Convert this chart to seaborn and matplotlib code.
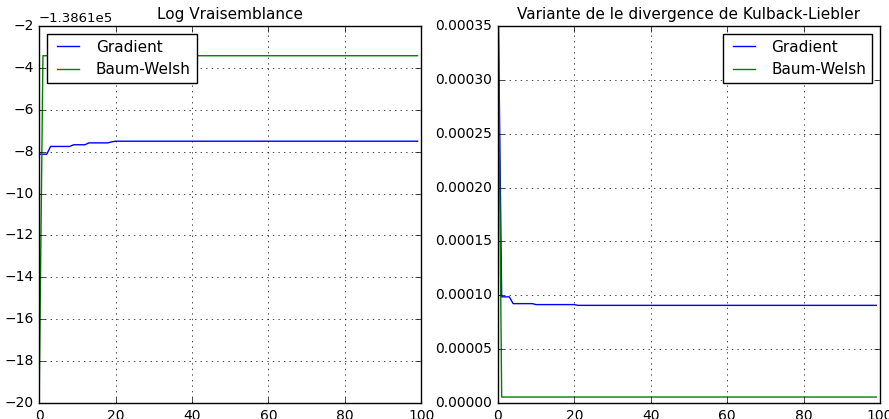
import matplotlib
matplotlib.use("Agg")
import matplotlib.pyplot as plt
import seaborn as sns
import numpy as np

# iterations 0..99
iterations = list(range(100))

# log-likelihood (absolute values, offset -1.3861e5)
base_ll = -138610.0
grad_ll_rel = [-8.12] * 3 + [-7.75] * 6 + [-7.67] * 4 + [-7.58] * 6 + [-7.53] * 1 + [-7.50] * 80
bw_ll_rel = [-20.0] + [-3.42] * 99

# KL divergence variant
grad_kl = [0.0004] + [0.0000986] * 3 + [0.0000923] * 6 + [0.0000914] * 11 + [0.0000907] * 79
bw_kl = [0.0004] + [0.0000056] * 99

grad_ll = [base_ll + v for v in grad_ll_rel]
bw_ll = [base_ll + v for v in bw_ll_rel]

plt.style.use("classic")
fig, (ax1, ax2) = plt.subplots(1, 2, figsize=(8.89, 4.19))

sns.lineplot(x=iterations, y=grad_ll, color="b", label="Gradient", ax=ax1)
sns.lineplot(x=iterations, y=bw_ll, color="g", label="Baum-Welsh", ax=ax1)
ax1.set_xlim(0, 100)
ax1.set_ylim(base_ll - 20, base_ll - 2)
ax1.yaxis.get_major_formatter().set_useOffset(base_ll)
ax1.yaxis.get_offset_text().set_fontsize(9.5)
ax1.set_title("Log Vraisemblance", fontsize=11)
ax1.grid(True)
ax1.legend(loc="upper left", fontsize=11)

sns.lineplot(x=iterations, y=grad_kl, color="b", label="Gradient", ax=ax2)
sns.lineplot(x=iterations, y=bw_kl, color="g", label="Baum-Welsh", ax=ax2)
ax2.set_xlim(0, 100)
ax2.set_ylim(0, 0.00035)
ax2.set_title("Variante de le divergence de Kulback-Liebler", fontsize=11)
ax2.grid(True)
ax2.legend(loc="upper right", fontsize=11)

for ax in (ax1, ax2):
    ax.tick_params(labelsize=10)

plt.subplots_adjust(left=0.044, right=0.99, bottom=0.038, top=0.938, wspace=0.2)
plt.savefig("out.png", dpi=100)
plt.close()
